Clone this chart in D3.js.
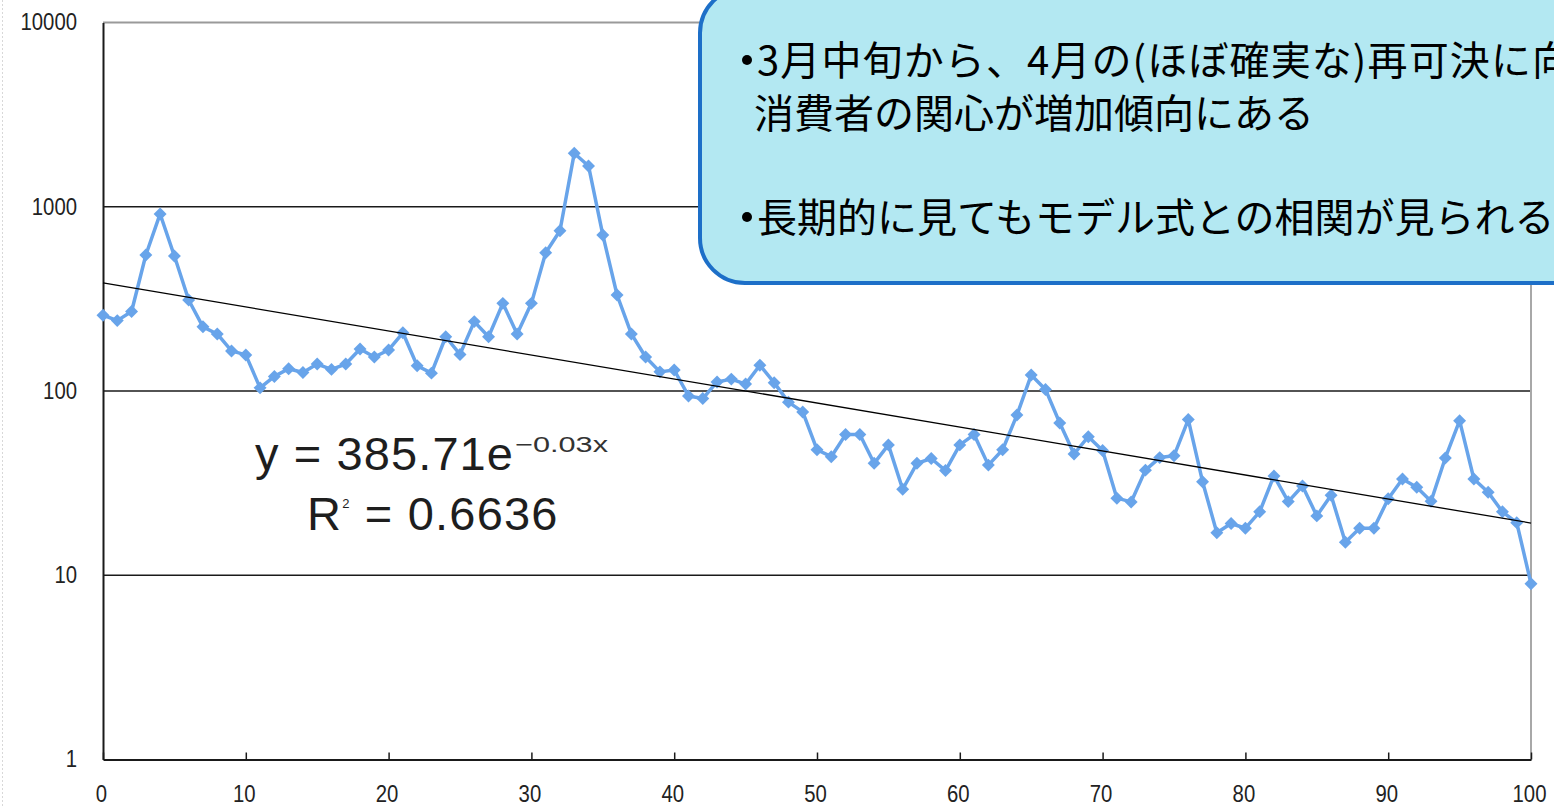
<!DOCTYPE html>
<html><head><meta charset="utf-8">
<script src="https://cdn.jsdelivr.net/npm/d3@7"></script>
<style>
html,body{margin:0;padding:0;background:#fff;overflow:hidden}
svg{display:block}
</style></head>
<body>
<svg id="c" width="1554" height="808"></svg>
<script>
// ---- data ----
const values = [258,241,270,547,914,540,312,223,204,165,
  157,104,120,132,126,140,131,140,169,153,
  167,207,137,125,197,158,238,197,299,204,
  299,563,741,1950,1665,703,332,204,153,127,
  130,94,91,112,116,109,138,111,87,77,
  48,44,58,58,40.5,51,29.3,40.5,43,37,
  51,58,39.6,48,74,122,102,67,45.5,56.5,
  47.5,26.2,25,37.2,43.5,44.5,70,32.2,17,19.1,
  18,22.1,34.6,25.1,30.5,21,27.2,15.1,18,18,
  26,33.3,30,25.2,43.3,69,33.3,28.2,22.1,19.3,
  9.0];
const xTicks = [0,10,20,30,40,50,60,70,80,90,100];
const yTicks = [1,10,100,1000,10000];
const trendA = 385.71, trendB = -0.03;
const eqMain = "y = 385.71e", eqExp = "\u22120.03x";
const r2Value = " = 0.6636";
const boxLines = ["3月中旬から、4月の(ほぼ確実な)再可決に向", "消費者の関心が増加傾向にある", "長期的に見てもモデル式との相関が見られる"];

// ---- layout ----
const svg = d3.select("#c");
const x = d3.scaleLinear().domain([0,100]).range([103,1531]);
const y = d3.scaleLog().domain([1,10000]).range([759.5,22.5]);
const tickFont = "'Liberation Sans',Arial,sans-serif";

// faint dotted left edge
svg.append("line").attr("x1",2.5).attr("x2",2.5).attr("y1",0).attr("y2",808)
  .attr("stroke","#d8d8d8").attr("stroke-dasharray","2,2");

// gridlines
svg.append("g").selectAll("line").data(yTicks.filter(d=>d>1)).join("line")
  .attr("x1",x(0)).attr("x2",x(100)).attr("y1",d=>y(d)).attr("y2",d=>y(d))
  .attr("stroke",d=>d===10000?"#9a9a9a":"#1a1a1a").attr("stroke-width",d=>d===10000?2:1.6);
// right border
svg.append("line").attr("x1",x(100)).attr("x2",x(100)).attr("y1",y(10000)).attr("y2",y(1))
  .attr("stroke","#a8a8a8").attr("stroke-width",2);

// axes
const ax = svg.append("g").attr("transform",`translate(0,${y(1)})`)
  .call(d3.axisBottom(x).tickValues(xTicks).tickSize(-7).tickPadding(26).tickSizeOuter(0));
ax.select(".domain").attr("stroke","#1a1a1a").attr("stroke-width",2);
ax.selectAll(".tick line").attr("stroke","#1a1a1a").attr("stroke-width",1.5);
ax.selectAll("text").attr("font-family",tickFont)
  .attr("font-size",23).attr("fill","#222").attr("dx",-2)
  .attr("textLength",function(){return this.textContent.length*11.3;})
  .attr("lengthAdjust","spacingAndGlyphs");

const ay = svg.append("g").attr("transform",`translate(${x(0)},0)`)
  .call(d3.axisLeft(y).tickValues(yTicks).tickFormat(d3.format("d")).tickSize(0).tickPadding(26).tickSizeOuter(0));
ay.select(".domain").attr("stroke","#1a1a1a").attr("stroke-width",2);
ay.selectAll("text").attr("font-family",tickFont)
  .attr("font-size",23).attr("fill","#222")
  .attr("textLength",function(){return this.textContent.length*11.3;})
  .attr("lengthAdjust","spacingAndGlyphs");

// series
const blue = "#68a4ea";
svg.append("path").datum(values)
  .attr("fill","none").attr("stroke",blue).attr("stroke-width",3.5).attr("stroke-linejoin","round")
  .attr("d", d3.line().x((d,i)=>x(i)).y(d=>y(d)));
svg.append("g").selectAll("path").data(values).join("path")
  .attr("d", d3.symbol(d3.symbolSquare, 84)())
  .attr("transform",(d,i)=>`translate(${x(i)},${y(d)}) rotate(45)`)
  .attr("fill",blue);

// trend line
svg.append("path").datum([0,100])
  .attr("fill","none").attr("stroke","#000").attr("stroke-width",1.3)
  .attr("d", d3.line().x(d=>x(d)).y(d=>y(trendA*Math.exp(trendB*d))));

// equation
const eqFont = "'Liberation Sans',Arial,sans-serif";
svg.append("text").attr("x",255).attr("y",470).attr("font-family",eqFont).attr("font-size",47)
  .attr("fill","#1e1e1e").attr("textLength",258).attr("lengthAdjust","spacing").text(eqMain);
svg.append("text").attr("x",515).attr("y",452).attr("font-family",eqFont).attr("font-size",22)
  .attr("fill","#333").attr("textLength",93).attr("lengthAdjust","spacingAndGlyphs").text(eqExp);
const r2 = svg.append("text").attr("x",307).attr("y",530).attr("font-family",eqFont).attr("font-size",47)
  .attr("fill","#1e1e1e").attr("letter-spacing",1.2);
r2.append("tspan").text("R");
r2.append("tspan").attr("font-size",13).attr("dy",-22).text("2");
r2.append("tspan").attr("dy",22).text(r2Value);

// callout box
svg.append("rect").attr("x",700).attr("y",-12).attr("width",920).attr("height",295).attr("rx",45).attr("ry",45)
  .attr("fill","#b3e8f2").attr("stroke","#1d6fc8").attr("stroke-width",4);
const jp = "'Noto Sans CJK JP','Noto Sans CJK SC',sans-serif";
const bulletY = [60,217];
svg.append("g").selectAll("circle").data(bulletY).join("circle")
  .attr("cx",747).attr("cy",d=>d).attr("r",5).attr("fill","#000");
svg.append("g").selectAll("text").data(boxLines).join("text")
  .attr("x",(d,i)=>i===1?754:757).attr("y",(d,i)=>[75,128,232][i])
  .attr("font-family",jp).attr("font-size",40).attr("fill","#000")
  .attr("textLength",(d,i)=>i===0?815:null).attr("lengthAdjust","spacing")
  .text(d=>d);
</script>
</body></html>
